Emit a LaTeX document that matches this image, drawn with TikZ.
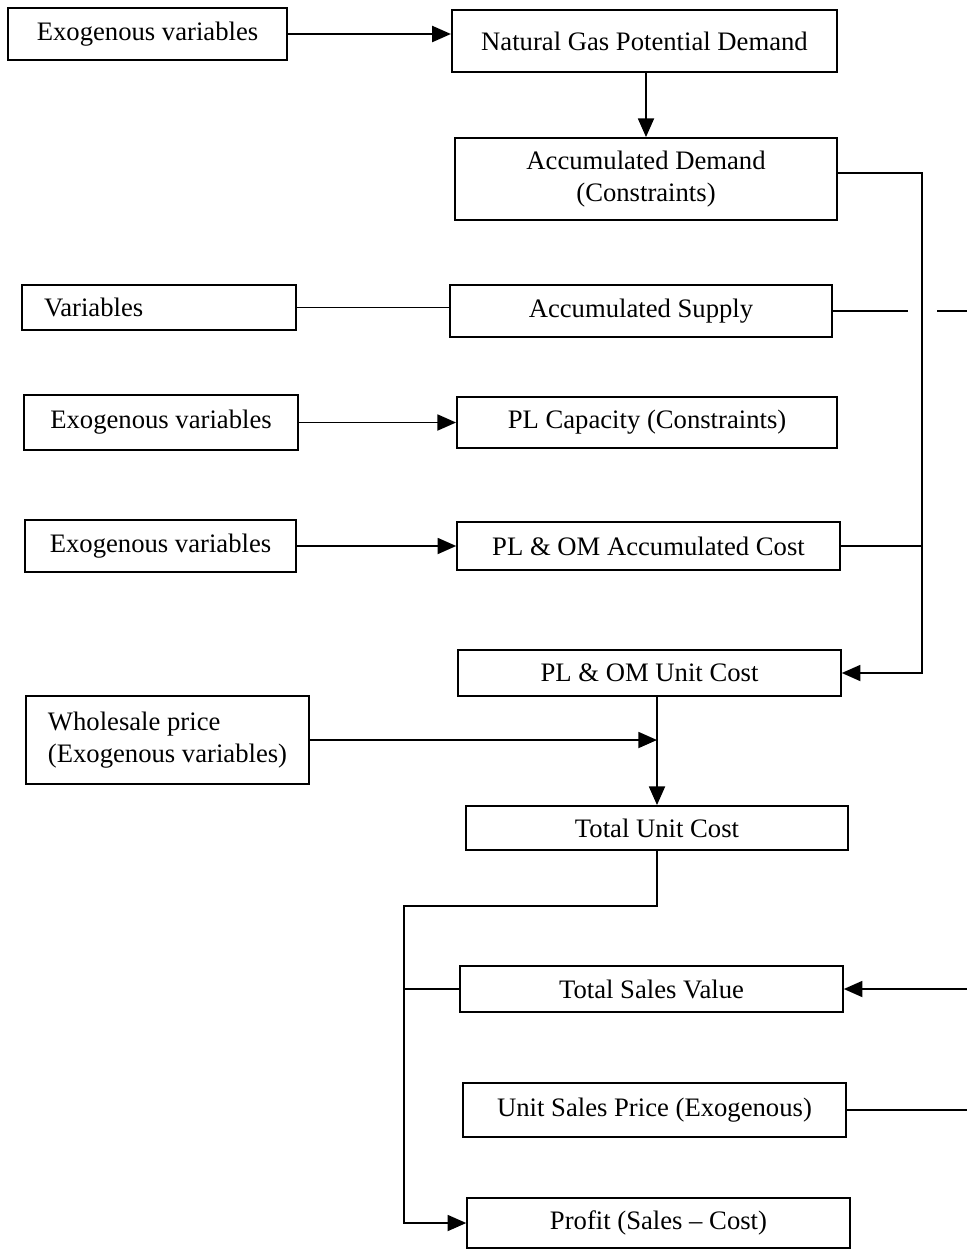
\documentclass[tikz,border=0pt]{standalone}
\usepackage{fontspec}
\setmainfont{Liberation Serif}
\usetikzlibrary{arrows.meta}
\tikzset{box/.style={draw,line width=1.4pt,align=center,inner sep=2pt,
  font=\fontsize{20}{24}\selectfont}}

\begin{document}
\begin{tikzpicture}[>={Triangle[length=14pt,width=12pt]},x=0.75pt,y=-0.75pt,line width=1.4pt]
\useasboundingbox (0,0) rectangle (967,1249);
% boxes
\node[box,minimum width=209pt,minimum height=39pt] (exoA) at (147.5,34) {Exogenous variables};
\node[box,minimum width=289pt,minimum height=46.5pt] (demand) at (644.5,41) {Natural Gas Potential Demand};
\node[box,minimum width=286.5pt,minimum height=61.5pt] (accdem) at (646,179) {Accumulated Demand\\(Constraints)};
\node[box,minimum width=205.5pt,minimum height=34pt,align=left,inner xsep=16.5pt,text width=172.5pt] (vars) at (159,307.5) {Variables};
\node[box,minimum width=286.5pt,minimum height=39pt] (accsup) at (641,311) {Accumulated Supply};
\node[box,minimum width=205.5pt,minimum height=41pt] (exoB) at (161,422.5) {Exogenous variables};
\node[box,minimum width=285pt,minimum height=38pt] (plcap) at (647,422.5) {PL Capacity (Constraints)};
\node[box,minimum width=203pt,minimum height=39pt] (exoC) at (160.5,546) {Exogenous variables};
\node[box,minimum width=287pt,minimum height=36pt] (accost) at (648.5,546) {PL \& OM Accumulated Cost};
\node[box,minimum width=287pt,minimum height=34.5pt] (unitcost) at (649.5,673) {PL \& OM Unit Cost};
\node[box,minimum width=212pt,minimum height=66pt,align=left] (whole) at (167.5,740) {Wholesale price\\(Exogenous variables)};
\node[box,minimum width=286.5pt,minimum height=33pt] (totcost) at (657,828) {Total Unit Cost};
\node[box,minimum width=287pt,minimum height=34.5pt] (sales) at (651.5,989) {Total Sales Value};
\node[box,minimum width=287pt,minimum height=40.5pt] (price) at (654.5,1110) {Unit Sales Price (Exogenous)};
\node[box,minimum width=287pt,minimum height=37.5pt] (profit) at (658.5,1223) {Profit (Sales -- Cost)};
% junctions
\coordinate (bus) at (922,173);
\coordinate (hopL) at (908,311);
\coordinate (hopR) at (937,311);
\coordinate (edge) at (967,311);
\coordinate (split) at (404,906);
\coordinate (salesin) at (967,989);
\coordinate (priceout) at (967,1110);
% connectors
\draw[->] (exoA.east) -- (exoA.east -| demand.west);
\draw[->] (demand.south -| accdem.north) -- (accdem.north);
\draw[->] (accdem.east |- bus) -- (bus) |- (unitcost.east);
\draw (vars.east) -- (vars.east -| accsup.west);
\draw (accsup.east) -- (hopL);
\draw (hopR) -- (edge);
\draw[->] (exoB.east) -- (exoB.east -| plcap.west);
\draw[->] (exoC.east) -- (exoC.east -| accost.west);
\draw (accost.east) -- (accost.east -| bus);
\draw[->] (whole.east) -- (whole.east -| totcost.north);
\draw[->] (unitcost.south -| totcost.north) -- (totcost.north);
\draw[->] (totcost.south) |- (split) |- (profit.west);
\draw (sales.west) -- (sales.west -| split);
\draw[->] (salesin) -- (sales.east);
\draw (price.east) -- (priceout);
\end{tikzpicture}
\end{document}
